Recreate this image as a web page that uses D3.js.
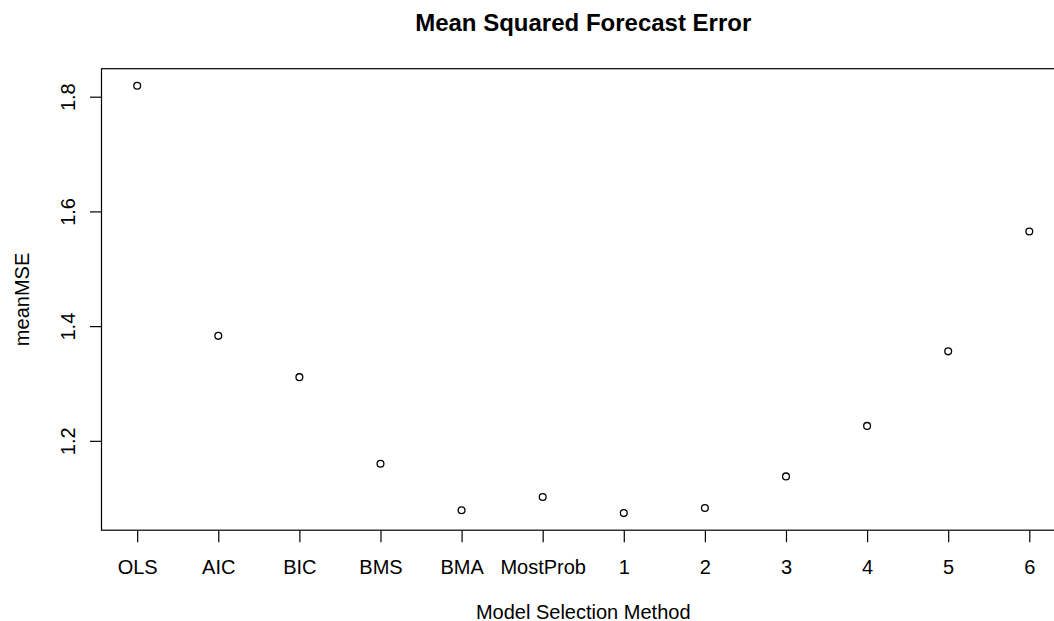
<!DOCTYPE html>
<html>
<head>
<meta charset="utf-8">
<script src="https://cdn.jsdelivr.net/npm/d3@7"></script>
<style>
  html, body { margin: 0; padding: 0; background: #fff; }
  svg { display: block; font-family: "Liberation Sans", Arial, Helvetica, sans-serif; }
</style>
</head>
<body>
<svg id="chart" width="1054" height="621"></svg>
<script>
// Mean squared forecast error by model selection method
const methods = ["OLS", "AIC", "BIC", "BMS", "BMA", "MostProb", "1", "2", "3", "4", "5", "6"];
const meanMSE = [1.819, 1.383, 1.311, 1.160, 1.079, 1.102, 1.074, 1.083, 1.138, 1.226, 1.356, 1.565];
const yTicks = [1.2, 1.4, 1.6, 1.8];

const svg = d3.select("#chart");

// plot region (base-graphics style box, right side extends past the canvas)
const plotLeft = 101.5, plotTop = 68.7, plotBottom = 530.2;

// index positions 1..n with 4% padding on each side
const n = methods.length;
const xPad = (n - 1) * 0.04;
const unit = 81.1;
const x = d3.scaleLinear()
  .domain([1 - xPad, n + xPad])
  .range([plotLeft, plotLeft + (n - 1 + 2 * xPad) * unit]);

const yMin = d3.min(meanMSE), yMax = d3.max(meanMSE);
const yPad = (yMax - yMin) * 0.04;
const y = d3.scaleLinear()
  .domain([yMin - yPad, yMax + yPad])
  .range([plotBottom, plotTop]);

const plotRight = x.range()[1];

// frame
svg.append("rect")
  .attr("x", plotLeft).attr("y", plotTop)
  .attr("width", plotRight - plotLeft).attr("height", plotBottom - plotTop)
  .attr("fill", "none").attr("stroke", "#000").attr("stroke-width", 1.2);

// x axis
const xAxis = d3.axisBottom(x)
  .tickValues(d3.range(1, n + 1))
  .tickFormat(i => methods[i - 1])
  .tickSize(12)
  .tickSizeOuter(0);
const gx = svg.append("g")
  .attr("transform", `translate(0,${plotBottom})`)
  .call(xAxis);
gx.select(".domain").remove();
gx.selectAll(".tick line").attr("stroke", "#000").attr("stroke-width", 1.2);
gx.selectAll(".tick text")
  .attr("fill", "#000")
  .attr("font-size", 20)
  .attr("dy", null)
  .attr("y", 44);

// y axis with rotated labels
const yAxis = d3.axisLeft(y)
  .tickValues(yTicks)
  .tickFormat(d3.format(".1f"))
  .tickSize(11.5)
  .tickSizeOuter(0);
const gy = svg.append("g")
  .attr("transform", `translate(${plotLeft},0)`)
  .call(yAxis);
gy.select(".domain").remove();
gy.selectAll(".tick line").attr("stroke", "#000").attr("stroke-width", 1.2);
gy.selectAll(".tick text")
  .attr("fill", "#000")
  .attr("font-size", 20)
  .attr("x", null).attr("dy", null)
  .attr("text-anchor", "middle")
  .attr("transform", `translate(${75 - plotLeft},0) rotate(-90)`);

// points
svg.append("g")
  .selectAll("circle")
  .data(meanMSE)
  .join("circle")
  .attr("cx", (d, i) => x(i + 1))
  .attr("cy", d => y(d))
  .attr("r", 3.4)
  .attr("fill", "none")
  .attr("stroke", "#000")
  .attr("stroke-width", 1.3);

// titles
svg.append("text")
  .attr("x", (plotLeft + plotRight) / 2).attr("y", 31)
  .attr("text-anchor", "middle")
  .attr("font-size", 24).attr("font-weight", "bold")
  .text("Mean Squared Forecast Error");

svg.append("text")
  .attr("x", (plotLeft + plotRight) / 2).attr("y", 619)
  .attr("text-anchor", "middle")
  .attr("font-size", 20)
  .text("Model Selection Method");

svg.append("text")
  .attr("transform", `translate(28.5,${(plotTop + plotBottom) / 2}) rotate(-90)`)
  .attr("text-anchor", "middle")
  .attr("font-size", 20)
  .text("meanMSE");
</script>
</body>
</html>
